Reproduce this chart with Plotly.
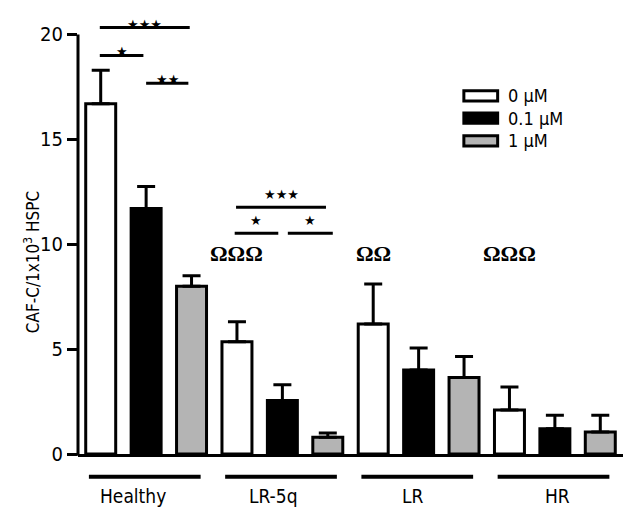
import plotly.graph_objects as go

# ---- data ----
groups = ["Healthy", "LR-5q", "LR", "HR"]
series_names = ["0 \u00b5M", "0.1 \u00b5M", "1 \u00b5M"]
vals_0 = [16.7, 5.35, 6.2, 2.1]
vals_01 = [11.7, 2.55, 4.0, 1.2]
vals_1 = [8.0, 0.8, 3.65, 1.05]
err_0 = [1.6, 0.95, 1.9, 1.1]
err_01 = [1.05, 0.75, 1.05, 0.65]
err_1 = [0.5, 0.2, 1.0, 0.8]
y_ticks = [0, 5, 10, 15, 20]

# significance brackets: (group index, x-start offset, x-end offset, y value, label)
sig_group = [0, 0, 0, 1, 1, 1]
sig_x0 = [-0.34, -0.34, 0.0, -0.34, -0.35, 0.04]
sig_x1 = [0.32, -0.02, 0.31, 0.32, -0.03, 0.37]
sig_y = [20.33, 19.0, 17.67, 11.76, 10.52, 10.52]
sig_text = ["\u2605\u2605\u2605", "\u2605", "\u2605\u2605", "\u2605\u2605\u2605", "\u2605", "\u2605"]

omega_group = [1, 2, 3]
omega_text = ["\u03a9\u03a9\u03a9", "\u03a9\u03a9", "\u03a9\u03a9\u03a9"]
omega_y = 9.57

label_shift = [-0.095, -0.066, -0.044, 0.022]

colors = ["#ffffff", "#000000", "#b4b4b4"]
YMAX = 20.5
FONT = "DejaVu Sans Condensed, Liberation Sans Narrow, Arial Narrow, sans-serif"

x = list(range(len(groups)))
fig = go.Figure()
for name, vals, errs, col in zip(series_names, [vals_0, vals_01, vals_1],
                                 [err_0, err_01, err_1], colors):
    fig.add_trace(go.Bar(
        x=x, y=vals, name=name,
        marker=dict(color=col, line=dict(color="black", width=3)),
        error_y=dict(type="data", array=errs, symmetric=False,
                     arrayminus=[0] * len(errs), color="black",
                     thickness=3, width=9),
        showlegend=False,
    ))


def y2p(v):
    return v / YMAX


shapes = []
annotations = []
# y axis line only up to 20
shapes.append(dict(type="line", xref="paper", yref="paper", x0=0, x1=0,
                   y0=-0.004, y1=y2p(20), line=dict(color="black", width=3)))
# significance brackets
for g, a, b, yv, t in zip(sig_group, sig_x0, sig_x1, sig_y, sig_text):
    shapes.append(dict(type="line", xref="x", yref="paper", x0=g + a, x1=g + b,
                       y0=y2p(yv), y1=y2p(yv), line=dict(color="black", width=3)))
    annotations.append(dict(text=t, xref="x", yref="paper", x=(g + (a + b) / 2),
                            y=y2p(yv + 0.62), showarrow=False,
                            font=dict(size=13, color="black", family="DejaVu Sans")))
# omegas
for g, t in zip(omega_group, omega_text):
    annotations.append(dict(text="<b>" + t + "</b>", xref="x", yref="paper", x=g - 1 / 3,
                            y=y2p(omega_y), showarrow=False,
                            font=dict(size=22, color="black", family="Liberation Serif")))
# group underlines and labels
for g, s, name in zip(x, label_shift, groups):
    shapes.append(dict(type="line", xref="x", yref="paper", x0=g - 0.42, x1=g + 0.40,
                       y0=-0.053, y1=-0.053, line=dict(color="black", width=4)))
    annotations.append(dict(text=name, xref="x", yref="paper", x=g + s, y=-0.097,
                            showarrow=False, yanchor="middle",
                            font=dict(size=19, color="black", family=FONT)))
# legend (drawn manually)
leg_y = [0.833, 0.781, 0.728]
for name, col, ly in zip(series_names, colors, leg_y):
    shapes.append(dict(type="rect", xref="paper", yref="paper", x0=0.708, x1=0.770,
                       y0=ly - 0.012, y1=ly + 0.012, fillcolor=col,
                       line=dict(color="black", width=3)))
    annotations.append(dict(text=name, xref="paper", yref="paper", x=0.785, y=ly,
                            xanchor="left", yanchor="middle", showarrow=False,
                            font=dict(size=18, color="black", family=FONT)))
# y axis title
annotations.append(dict(text="CAF-C/1x10<sup>3</sup> HSPC", xref="paper", yref="paper",
                        x=-0.109, y=0.445, textangle=-90, showarrow=False,
                        font=dict(size=17, color="black", family=FONT)))

# the page body adds an 8px offset, so margins are reduced by 8px on left/top
fig.update_layout(
    width=633, height=513,
    margin=dict(l=70, r=18, t=16, b=67),
    paper_bgcolor="white", plot_bgcolor="white",
    barmode="group", bargap=0.0, bargroupgap=0.34,
    shapes=shapes, annotations=annotations,
    xaxis=dict(range=[-0.5, 3.5], showticklabels=False, ticks="", showgrid=False,
               zeroline=False, showline=True, linecolor="black", linewidth=3),
    yaxis=dict(range=[0, YMAX], tickvals=y_ticks, ticks="outside", ticklen=10,
               tickwidth=3, tickcolor="black", showgrid=False, zeroline=False,
               showline=False, tickfont=dict(size=20, color="black", family=FONT)),
)

fig.write_html("out.html")
